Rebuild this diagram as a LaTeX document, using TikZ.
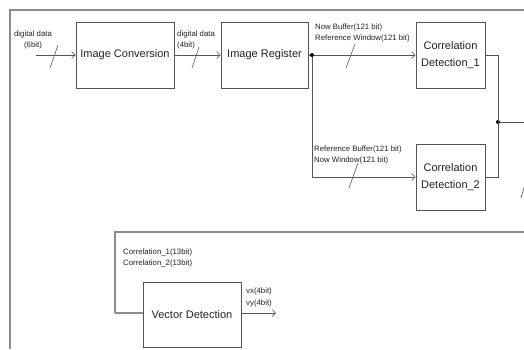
\documentclass[tikz,border=0pt]{standalone}
\usepackage{fontspec}
\setmainfont{Liberation Sans}
\usetikzlibrary{arrows.meta}
\definecolor{ln}{HTML}{555555}
\definecolor{fr}{HTML}{8C8C8C}
\definecolor{tx}{HTML}{222222}
\tikzset{
  blk/.style={draw=ln, line width=0.8pt, fill=white, inner sep=0pt, align=center, text=tx,
              font=\fontsize{11}{17}\selectfont},
  lbl/.style={inner sep=0pt, align=left, text=tx, font=\fontsize{7.8}{11.5}\selectfont},
  wire/.style={draw=ln, line width=0.7pt},
  arr/.style={wire, -{Straight Barb[length=3.5pt,width=7pt,line width=0.6pt]}},
  frame/.style={draw=fr, line width=1.4pt},
  tick/.style={draw=ln, line width=0.6pt},
  dot/.style={circle, fill=black, inner sep=0pt, minimum size=4pt}
}
\begin{document}
\begin{tikzpicture}[x=1pt,y=-1pt]
\useasboundingbox (0,0) rectangle (524,349);
\clip (0,0) rectangle (524,349);
% frames
\draw[frame] (10,349) -- (10,10) -- (524,10);
% blocks
\node[blk, minimum width=98pt, minimum height=66pt] (IC) at (125,55) {Image Conversion};
\node[blk, minimum width=87pt, minimum height=66pt] (IR) at (264.5,55) {Image Register};
\node[blk, minimum width=69pt, minimum height=66pt] (CD1) at (450.5,55) {Correlation\\Detection\_1};
\node[blk, minimum width=69pt, minimum height=66pt] (CD2) at (450.5,177) {Correlation\\Detection\_2};
\node[blk, minimum width=98pt, minimum height=65pt] (VD) at (192,314.5) {Vector Detection};
% coordinates
\coordinate (in) at (36,55);
\node[dot] (d1) at (312,55) {};
\coordinate (c2) at (312,177);
\coordinate (r1) at (498,55);
\coordinate (r2) at (498,177);
\node[dot] (d2) at (498,122) {};
\coordinate (rout) at (524,122);
\coordinate (f1) at (524,232);
\coordinate (f2) at (115,232);
\coordinate (f3) at (115,313);
\coordinate (vout) at (276,313);
% connectors
\draw[arr] (in) -- (IC.west);
\draw[arr] (IC.east) -- (IR.west);
\draw[wire] (IR.east) -- (d1);
\draw[arr] (d1) -- (CD1.west);
\draw[wire] (d1) -- (c2);
\draw[arr] (c2) -- (CD2.west);
\draw[wire] (CD1.east) -- (r1) -- (r2) -- (CD2.east);
\draw[wire] (d2) -- (rout);
\draw[frame] (f1) -- (f2) -- (f3);
\draw[frame] (f3) -- (VD.west |- f3);
\draw[arr] (VD.east |- vout) -- (vout);
% bus ticks
\draw[tick] (50,68) -- (58,45);
\draw[tick] (192,68) -- (199,47);
\draw[tick] (346,68) -- (355,44);
\draw[tick] (349,188) -- (358,163);
\draw[tick] (521,198) -- (525,184);
% labels
\node[lbl, align=center] at (33,40) {digital data\\(6bit)};
\node[lbl, anchor=west] at (177,40) {digital data\\(4bit)};
\node[lbl, anchor=west] at (315,33) {Now Buffer(121 bit)\\Reference Window(121 bit)};
\node[lbl, anchor=west] at (314,155) {Reference Buffer(121 bit)\\Now Window(121 bit)};
\node[lbl, anchor=west] at (123,258) {Correlation\_1(13bit)\\Correlation\_2(13bit)};
\node[lbl, anchor=west] at (246,297.5) {vx(4bit)\\vy(4bit)};
\end{tikzpicture}
\end{document}
